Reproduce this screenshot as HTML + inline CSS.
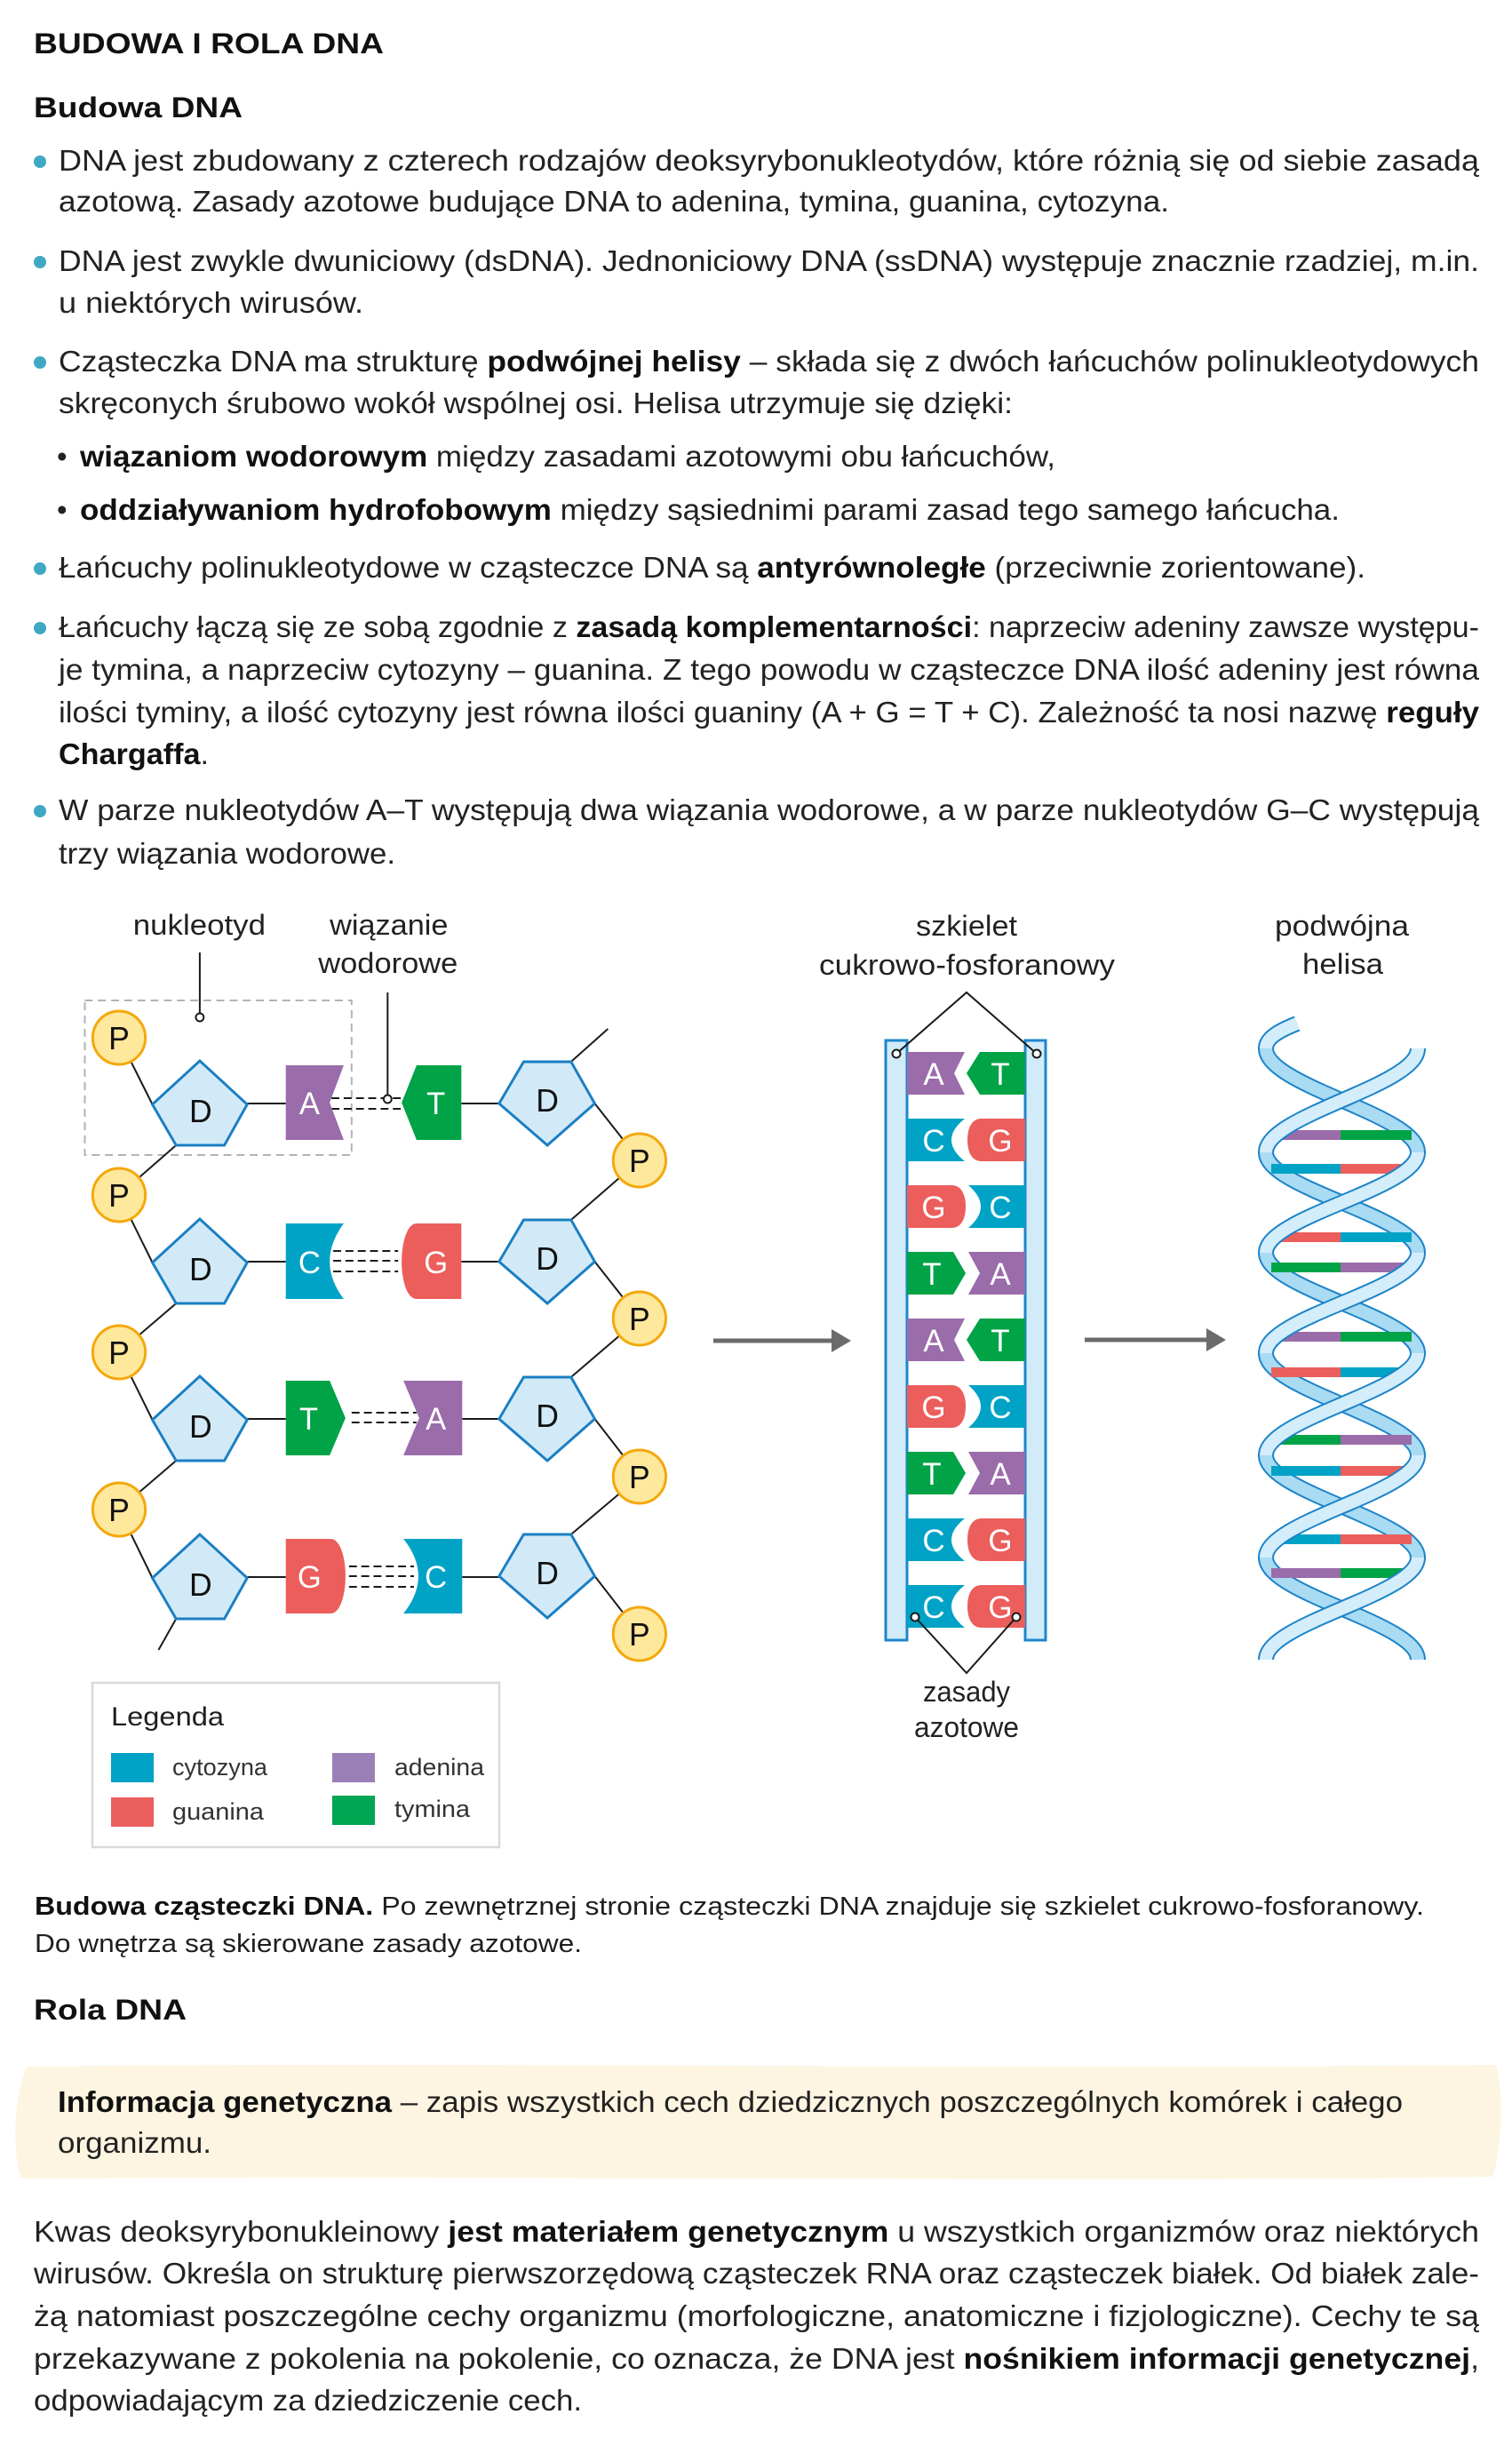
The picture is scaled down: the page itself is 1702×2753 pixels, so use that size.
<!DOCTYPE html>
<html><head><meta charset="utf-8"><style>
html,body{margin:0;padding:0;background:#fff;}
svg{display:block;}
text{font-family:"Liberation Sans","DejaVu Sans",sans-serif;}
.b{font-size:33px;fill:#222;}
.h{font-size:32px;font-weight:bold;fill:#111;}
.bd{font-weight:bold;fill:#111;}
.lab{font-size:32px;fill:#222;}
.wl{font-size:35px;fill:#fff;text-anchor:middle;}
.bl{font-size:36px;fill:#111;text-anchor:middle;}
.lg{font-size:27px;fill:#333;}
</style></head><body>
<svg width="1702" height="2753" viewBox="0 0 1702 2753" xmlns="http://www.w3.org/2000/svg">
<rect width="1702" height="2753" fill="#fff"/>

<!-- Headings -->
<text class="h" x="38" y="60" textLength="394" lengthAdjust="spacingAndGlyphs">BUDOWA I ROLA DNA</text>
<text class="h" x="38" y="132" textLength="235" lengthAdjust="spacingAndGlyphs">Budowa DNA</text>

<!-- bullets -->
<g fill="#3fa8c5">
<circle cx="45" cy="182" r="7"/>
<circle cx="45" cy="295" r="7"/>
<circle cx="45" cy="408" r="7"/>
<circle cx="45" cy="640" r="7"/>
<circle cx="45" cy="707" r="7"/>
<circle cx="45" cy="913" r="7"/>
</g>

<text class="b" x="66" y="192" textLength="1599" lengthAdjust="spacingAndGlyphs">DNA jest zbudowany z czterech rodzajów deoksyrybonukleotydów, które różnią się od siebie zasadą</text>
<text class="b" x="66" y="238" textLength="1250" lengthAdjust="spacingAndGlyphs">azotową. Zasady azotowe budujące DNA to adenina, tymina, guanina, cytozyna.</text>
<text class="b" x="66" y="305" textLength="1599" lengthAdjust="spacingAndGlyphs">DNA jest zwykle dwuniciowy (dsDNA). Jednoniciowy DNA (ssDNA) występuje znacznie rzadziej, m.in.</text>
<text class="b" x="66" y="352" textLength="343" lengthAdjust="spacingAndGlyphs">u niektórych wirusów.</text>
<text class="b" x="66" y="418" textLength="1599" lengthAdjust="spacingAndGlyphs">Cząsteczka DNA ma strukturę <tspan class="bd">podwójnej helisy</tspan> – składa się z dwóch łańcuchów polinukleotydowych</text>
<text class="b" x="66" y="465" textLength="1074" lengthAdjust="spacingAndGlyphs">skręconych śrubowo wokół wspólnej osi. Helisa utrzymuje się dzięki:</text>
<text class="b" x="64" y="525">•</text>
<text class="b" x="90" y="525" textLength="1098" lengthAdjust="spacingAndGlyphs"><tspan class="bd">wiązaniom wodorowym</tspan> między zasadami azotowymi obu łańcuchów,</text>
<text class="b" x="64" y="585">•</text>
<text class="b" x="90" y="585" textLength="1418" lengthAdjust="spacingAndGlyphs"><tspan class="bd">oddziaływaniom hydrofobowym</tspan> między sąsiednimi parami zasad tego samego łańcucha.</text>
<text class="b" x="66" y="650" textLength="1471" lengthAdjust="spacingAndGlyphs">Łańcuchy polinukleotydowe w cząsteczce DNA są <tspan class="bd">antyrównoległe</tspan> (przeciwnie zorientowane).</text>
<text class="b" x="66" y="717" textLength="1599" lengthAdjust="spacingAndGlyphs">Łańcuchy łączą się ze sobą zgodnie z <tspan class="bd">zasadą komplementarności</tspan>: naprzeciw adeniny zawsze występu-</text>
<text class="b" x="66" y="765" textLength="1599" lengthAdjust="spacingAndGlyphs">je tymina, a naprzeciw cytozyny – guanina. Z tego powodu w cząsteczce DNA ilość adeniny jest równa</text>
<text class="b" x="66" y="813" textLength="1599" lengthAdjust="spacingAndGlyphs">ilości tyminy, a ilość cytozyny jest równa ilości guaniny (A + G = T + C). Zależność ta nosi nazwę <tspan class="bd">reguły</tspan></text>
<text class="b" x="66" y="860" textLength="169" lengthAdjust="spacingAndGlyphs"><tspan class="bd">Chargaffa</tspan>.</text>
<text class="b" x="66" y="923" textLength="1599" lengthAdjust="spacingAndGlyphs">W parze nukleotydów A–T występują dwa wiązania wodorowe, a w parze nukleotydów G–C występują</text>
<text class="b" x="66" y="972" textLength="379" lengthAdjust="spacingAndGlyphs">trzy wiązania wodorowe.</text>

<!-- ===== Left diagram ===== -->
<g transform="matrix(0.988,0,0,1,1.6,0)">
<text class="lab" x="150" y="1052" textLength="151" lengthAdjust="spacingAndGlyphs">nukleotyd</text>
<text class="lab" x="374" y="1052" textLength="135" lengthAdjust="spacingAndGlyphs">wiązanie</text>
<text class="lab" x="361" y="1095" textLength="159" lengthAdjust="spacingAndGlyphs">wodorowe</text>

<rect x="95" y="1126" width="304" height="174" fill="none" stroke="#b3b3b3" stroke-width="2" stroke-dasharray="9 6"/>

<!-- backbone lines -->
<g stroke="#1a1a1a" stroke-width="2" fill="none">
<line x1="134" y1="1168" x2="172" y2="1243"/>
<line x1="199" y1="1289" x2="134" y2="1345"/>
<line x1="134" y1="1345" x2="172" y2="1421"/>
<line x1="199" y1="1467" x2="134" y2="1522"/>
<line x1="134" y1="1522" x2="172" y2="1598"/>
<line x1="199" y1="1644" x2="134" y2="1699"/>
<line x1="134" y1="1699" x2="172" y2="1776"/>
<line x1="199" y1="1822" x2="179" y2="1857"/>
<line x1="649" y1="1195" x2="691" y2="1158"/>
<line x1="676" y1="1242" x2="727" y2="1306"/>
<line x1="727" y1="1306" x2="649" y2="1373"/>
<line x1="676" y1="1420" x2="727" y2="1484"/>
<line x1="727" y1="1484" x2="649" y2="1550"/>
<line x1="676" y1="1597" x2="727" y2="1662"/>
<line x1="727" y1="1662" x2="649" y2="1727"/>
<line x1="676" y1="1774" x2="727" y2="1839"/>
<line x1="280" y1="1242" x2="324" y2="1242"/>
<line x1="524" y1="1242" x2="567" y2="1242"/>
<line x1="280" y1="1420" x2="324" y2="1420"/>
<line x1="524" y1="1420" x2="567" y2="1420"/>
<line x1="280" y1="1597" x2="324" y2="1597"/>
<line x1="525" y1="1597" x2="567" y2="1597"/>
<line x1="280" y1="1775" x2="324" y2="1775"/>
<line x1="525" y1="1775" x2="567" y2="1775"/>
<!-- leaders -->
<line x1="226" y1="1072" x2="226" y2="1141"/>
<line x1="440" y1="1117" x2="440" y2="1233"/>
</g>

<!-- hydrogen bonds -->
<g stroke="#1a1a1a" stroke-width="2" stroke-dasharray="9 5" fill="none">
<line x1="376" y1="1236" x2="455" y2="1236"/>
<line x1="376" y1="1248" x2="455" y2="1248"/>
<line x1="378" y1="1408" x2="452" y2="1408"/>
<line x1="378" y1="1419" x2="452" y2="1419"/>
<line x1="378" y1="1431" x2="452" y2="1431"/>
<line x1="399" y1="1590" x2="473" y2="1590"/>
<line x1="399" y1="1601" x2="473" y2="1601"/>
<line x1="396" y1="1763" x2="470" y2="1763"/>
<line x1="396" y1="1774" x2="470" y2="1774"/>
<line x1="396" y1="1786" x2="470" y2="1786"/>
</g>

<!-- P circles -->
<g fill="#fee89c" stroke="#f4a80c" stroke-width="3">
<circle cx="134" cy="1168" r="30"/>
<circle cx="134" cy="1345" r="30"/>
<circle cx="134" cy="1522" r="30"/>
<circle cx="134" cy="1699" r="30"/>
<circle cx="727" cy="1306" r="30"/>
<circle cx="727" cy="1484" r="30"/>
<circle cx="727" cy="1662" r="30"/>
<circle cx="727" cy="1839" r="30"/>
</g>
<text class="bl" x="134" y="1181">P</text>
<text class="bl" x="134" y="1358">P</text>
<text class="bl" x="134" y="1535">P</text>
<text class="bl" x="134" y="1712">P</text>
<text class="bl" x="727" y="1319">P</text>
<text class="bl" x="727" y="1497">P</text>
<text class="bl" x="727" y="1675">P</text>
<text class="bl" x="727" y="1852">P</text>

<!-- D pentagons -->
<g fill="#d2eaf8" stroke="#1b7fc3" stroke-width="3" stroke-linejoin="miter">
<polygon points="226,1194 280,1243 254,1289 199,1289 172,1243"/>
<polygon points="226,1372 280,1421 254,1467 199,1467 172,1421"/>
<polygon points="226,1549 280,1598 254,1644 199,1644 172,1598"/>
<polygon points="226,1727 280,1776 254,1822 199,1822 172,1776"/>
<polygon points="595,1195 649,1195 676,1242 622,1289 567,1242"/>
<polygon points="595,1373 649,1373 676,1420 622,1467 567,1420"/>
<polygon points="595,1550 649,1550 676,1597 622,1644 567,1597"/>
<polygon points="595,1727 649,1727 676,1774 622,1821 567,1774"/>
</g>
<text class="bl" x="227" y="1263">D</text>
<text class="bl" x="227" y="1441">D</text>
<text class="bl" x="227" y="1618">D</text>
<text class="bl" x="227" y="1796">D</text>
<text class="bl" x="622" y="1251">D</text>
<text class="bl" x="622" y="1429">D</text>
<text class="bl" x="622" y="1606">D</text>
<text class="bl" x="622" y="1783">D</text>

<!-- bases left diagram -->
<polygon points="324,1199 390,1199 374,1241 390,1283 324,1283" fill="#9a6caa"/>
<polygon points="473,1199 524,1199 524,1283 473,1283 456,1241" fill="#00a346"/>
<path d="M324,1377 H390 Q358,1420 390,1462 H324 Z" fill="#00a3c6"/>
<path d="M473,1377 H524 V1462 H473 C462,1462 456,1441 456,1420 C456,1399 462,1377 473,1377 Z" fill="#eb5e5c"/>
<polygon points="324,1554 374,1554 392,1596 374,1638 324,1638" fill="#00a346"/>
<polygon points="458,1554 525,1554 525,1638 458,1638 476,1596" fill="#9a6caa"/>
<path d="M324,1732 H375 C386,1732 392,1753 392,1774 C392,1795 386,1816 375,1816 H324 Z" fill="#eb5e5c"/>
<path d="M458,1732 H525 V1816 H458 Q492,1774 458,1732 Z" fill="#00a3c6"/>
<text class="wl" x="351" y="1254">A</text>
<text class="wl" x="495" y="1254">T</text>
<text class="wl" x="351" y="1433">C</text>
<text class="wl" x="495" y="1433">G</text>
<text class="wl" x="350" y="1609">T</text>
<text class="wl" x="495" y="1609">A</text>
<text class="wl" x="351" y="1787">G</text>
<text class="wl" x="495" y="1787">C</text>

<!-- leader circles -->
<g fill="#fff" stroke="#1a1a1a" stroke-width="2">
<circle cx="226" cy="1145" r="4.5"/>
<circle cx="440" cy="1237" r="4.5"/>
</g>
</g>

<!-- Legend -->
<rect x="104" y="1894" width="458" height="185" fill="#fff" stroke="#d9d9d9" stroke-width="2.5"/>
<text x="125" y="1942" style="font-size:30px;fill:#1e1e1e" textLength="127" lengthAdjust="spacingAndGlyphs">Legenda</text>
<rect x="125" y="1973" width="48" height="33" fill="#00a3c6"/>
<rect x="125" y="2023" width="48" height="33" fill="#ec5f5f"/>
<rect x="374" y="1973" width="48" height="33" fill="#9b7fb7"/>
<rect x="374" y="2021" width="48" height="33" fill="#00a651"/>
<text class="lg" x="194" y="1998" textLength="107" lengthAdjust="spacingAndGlyphs">cytozyna</text>
<text class="lg" x="194" y="2048" textLength="103" lengthAdjust="spacingAndGlyphs">guanina</text>
<text class="lg" x="444" y="1998" textLength="101" lengthAdjust="spacingAndGlyphs">adenina</text>
<text class="lg" x="444" y="2045" textLength="85" lengthAdjust="spacingAndGlyphs">tymina</text>

<!-- ===== Arrows ===== -->
<line x1="803" y1="1509" x2="938" y2="1509" stroke="#6b6b6b" stroke-width="5"/>
<polygon points="936,1496 958,1509 936,1522" fill="#6b6b6b"/>
<line x1="1221" y1="1508" x2="1360" y2="1508" stroke="#6b6b6b" stroke-width="5"/>
<polygon points="1358,1495 1380,1508 1358,1521" fill="#6b6b6b"/>

<!-- ===== Ladder ===== -->
<text class="lab" x="1031" y="1053" textLength="114" lengthAdjust="spacingAndGlyphs">szkielet</text>
<text class="lab" x="922" y="1097" textLength="333" lengthAdjust="spacingAndGlyphs">cukrowo-fosforanowy</text>
<text class="lab" x="1039" y="1915" textLength="98" lengthAdjust="spacingAndGlyphs">zasady</text>
<text class="lab" x="1029" y="1955" textLength="118" lengthAdjust="spacingAndGlyphs">azotowe</text>

<rect x="997" y="1171" width="24" height="675" fill="#d2ebf9" stroke="#1f86cc" stroke-width="3"/>
<rect x="1154" y="1171" width="23" height="675" fill="#d2ebf9" stroke="#1f86cc" stroke-width="3"/>

<!-- row0 A T -->
<polygon points="1021,1184 1086,1184 1074,1208 1086,1232 1021,1232" fill="#9a6caa"/>
<polygon points="1103,1184 1154,1184 1154,1232 1103,1232 1088,1208" fill="#00a346"/>
<!-- row1 C G -->
<path d="M1021,1259 H1086 Q1056,1283 1086,1307 H1021 Z" fill="#00a3c6"/>
<path d="M1105,1259 H1154 V1307 H1105 C1093,1307 1089,1295 1089,1283 C1089,1271 1093,1259 1105,1259 Z" fill="#eb5e5c"/>
<!-- row2 G C -->
<path d="M1021,1334 H1071 C1083,1334 1087,1346 1087,1358 C1087,1370 1083,1382 1071,1382 H1021 Z" fill="#eb5e5c"/>
<path d="M1090,1334 H1154 V1382 H1090 Q1118,1358 1090,1334 Z" fill="#00a3c6"/>
<!-- row3 T A -->
<polygon points="1021,1409 1073,1409 1087,1433 1073,1457 1021,1457" fill="#00a346"/>
<polygon points="1090,1409 1154,1409 1154,1457 1090,1457 1103,1433" fill="#9a6caa"/>
<!-- row4 A T -->
<polygon points="1021,1484 1086,1484 1074,1508 1086,1532 1021,1532" fill="#9a6caa"/>
<polygon points="1103,1484 1154,1484 1154,1532 1103,1532 1088,1508" fill="#00a346"/>
<!-- row5 G C -->
<path d="M1021,1559 H1071 C1083,1559 1087,1571 1087,1583 C1087,1595 1083,1607 1071,1607 H1021 Z" fill="#eb5e5c"/>
<path d="M1090,1559 H1154 V1607 H1090 Q1118,1583 1090,1559 Z" fill="#00a3c6"/>
<!-- row6 T A -->
<polygon points="1021,1634 1073,1634 1087,1658 1073,1682 1021,1682" fill="#00a346"/>
<polygon points="1090,1634 1154,1634 1154,1682 1090,1682 1103,1658" fill="#9a6caa"/>
<!-- row7 C G -->
<path d="M1021,1709 H1086 Q1056,1733 1086,1757 H1021 Z" fill="#00a3c6"/>
<path d="M1105,1709 H1154 V1757 H1105 C1093,1757 1089,1745 1089,1733 C1089,1721 1093,1709 1105,1709 Z" fill="#eb5e5c"/>
<!-- row8 C G -->
<path d="M1021,1784 H1086 Q1056,1808 1086,1832 H1021 Z" fill="#00a3c6"/>
<path d="M1105,1784 H1154 V1832 H1105 C1093,1832 1089,1820 1089,1808 C1089,1796 1093,1784 1105,1784 Z" fill="#eb5e5c"/>

<text class="wl" x="1051" y="1221">A</text><text class="wl" x="1126" y="1221">T</text>
<text class="wl" x="1051" y="1296">C</text><text class="wl" x="1126" y="1296">G</text>
<text class="wl" x="1051" y="1371">G</text><text class="wl" x="1126" y="1371">C</text>
<text class="wl" x="1049" y="1446">T</text><text class="wl" x="1126" y="1446">A</text>
<text class="wl" x="1051" y="1521">A</text><text class="wl" x="1126" y="1521">T</text>
<text class="wl" x="1051" y="1596">G</text><text class="wl" x="1126" y="1596">C</text>
<text class="wl" x="1049" y="1671">T</text><text class="wl" x="1126" y="1671">A</text>
<text class="wl" x="1051" y="1746">C</text><text class="wl" x="1126" y="1746">G</text>
<text class="wl" x="1051" y="1821">C</text><text class="wl" x="1126" y="1821">G</text>

<!-- ladder leaders -->
<g stroke="#1a1a1a" stroke-width="2" fill="none">
<polyline points="1009,1186 1088,1117 1167,1186"/>
<polyline points="1030,1820 1088,1883 1144,1820"/>
</g>
<g fill="#fff" stroke="#1a1a1a" stroke-width="2">
<circle cx="1009" cy="1186" r="4.5"/>
<circle cx="1167" cy="1186" r="4.5"/>
<circle cx="1030" cy="1820" r="4.5"/>
<circle cx="1144" cy="1820" r="4.5"/>
</g>

<!-- ===== Helix ===== -->
<text class="lab" x="1435" y="1053" textLength="151" lengthAdjust="spacingAndGlyphs">podwójna</text>
<text class="lab" x="1466" y="1096" textLength="91" lengthAdjust="spacingAndGlyphs">helisa</text>

<!-- back strands -->
<g fill="none" stroke-linecap="butt">
<g stroke="#1c84c9" stroke-width="18">
<path d="M1425,1180 C1425,1222.6 1596,1254.4 1596,1297"/>
<path d="M1425,1297 C1425,1338.2 1596,1368.8 1596,1410"/>
<path d="M1425,1410 C1425,1451.2 1596,1481.8 1596,1523"/>
<path d="M1425,1523 C1425,1564.9 1596,1596.1 1596,1638"/>
<path d="M1425,1638 C1425,1679.9 1596,1711.1 1596,1753"/>
<path d="M1425,1753 C1425,1794.9 1596,1826.1 1596,1868"/>
</g>
<g stroke="#a9dbf3" stroke-width="14">
<path d="M1425,1180 C1425,1222.6 1596,1254.4 1596,1297"/>
<path d="M1425,1297 C1425,1338.2 1596,1368.8 1596,1410"/>
<path d="M1425,1410 C1425,1451.2 1596,1481.8 1596,1523"/>
<path d="M1425,1523 C1425,1564.9 1596,1596.1 1596,1638"/>
<path d="M1425,1638 C1425,1679.9 1596,1711.1 1596,1753"/>
<path d="M1425,1753 C1425,1794.9 1596,1826.1 1596,1868"/>
</g>
</g>

<!-- base pair bars -->
<g>
<rect x="1431" y="1272" width="78" height="11" fill="#9a6caa"/><rect x="1509" y="1272" width="80" height="11" fill="#00a346"/>
<rect x="1431" y="1310" width="78" height="11" fill="#00a3c6"/><rect x="1509" y="1310" width="80" height="11" fill="#eb5e5c"/>
<rect x="1431" y="1387" width="78" height="11" fill="#eb5e5c"/><rect x="1509" y="1387" width="80" height="11" fill="#00a3c6"/>
<rect x="1431" y="1421" width="78" height="11" fill="#00a346"/><rect x="1509" y="1421" width="80" height="11" fill="#9a6caa"/>
<rect x="1431" y="1499" width="78" height="11" fill="#9a6caa"/><rect x="1509" y="1499" width="80" height="11" fill="#00a346"/>
<rect x="1431" y="1539" width="78" height="11" fill="#eb5e5c"/><rect x="1509" y="1539" width="80" height="11" fill="#00a3c6"/>
<rect x="1431" y="1615" width="78" height="11" fill="#00a346"/><rect x="1509" y="1615" width="80" height="11" fill="#9a6caa"/>
<rect x="1431" y="1650" width="78" height="11" fill="#00a3c6"/><rect x="1509" y="1650" width="80" height="11" fill="#eb5e5c"/>
<rect x="1431" y="1727" width="78" height="11" fill="#00a3c6"/><rect x="1509" y="1727" width="80" height="11" fill="#eb5e5c"/>
<rect x="1431" y="1765" width="78" height="11" fill="#9a6caa"/><rect x="1509" y="1765" width="80" height="11" fill="#00a346"/>
</g>

<!-- front strands -->
<g fill="none" stroke-linecap="butt">
<g stroke="#1c84c9" stroke-width="18">
<path d="M1460,1152 C1440,1160 1425,1168 1425,1180"/>
<path d="M1596,1180 C1596,1222.6 1425,1254.4 1425,1297"/>
<path d="M1596,1297 C1596,1338.2 1425,1368.8 1425,1410"/>
<path d="M1596,1410 C1596,1451.2 1425,1481.8 1425,1523"/>
<path d="M1596,1523 C1596,1564.9 1425,1596.1 1425,1638"/>
<path d="M1596,1638 C1596,1679.9 1425,1711.1 1425,1753"/>
<path d="M1596,1753 C1596,1794.9 1425,1826.1 1425,1868"/>
</g>
<g stroke="#d4edfa" stroke-width="14">
<path d="M1460,1152 C1440,1160 1425,1168 1425,1180"/>
<path d="M1596,1180 C1596,1222.6 1425,1254.4 1425,1297"/>
<path d="M1596,1297 C1596,1338.2 1425,1368.8 1425,1410"/>
<path d="M1596,1410 C1596,1451.2 1425,1481.8 1425,1523"/>
<path d="M1596,1523 C1596,1564.9 1425,1596.1 1425,1638"/>
<path d="M1596,1638 C1596,1679.9 1425,1711.1 1425,1753"/>
<path d="M1596,1753 C1596,1794.9 1425,1826.1 1425,1868"/>
</g>
</g>

<!-- ===== Caption ===== -->
<text x="39" y="2155" style="font-size:29px;fill:#1e1e1e" textLength="1564" lengthAdjust="spacingAndGlyphs"><tspan class="bd">Budowa cząsteczki DNA.</tspan> Po zewnętrznej stronie cząsteczki DNA znajduje się szkielet cukrowo-fosforanowy.</text>
<text x="39" y="2197" style="font-size:29px;fill:#1e1e1e" textLength="616" lengthAdjust="spacingAndGlyphs">Do wnętrza są skierowane zasady azotowe.</text>

<text class="h" x="38" y="2273" textLength="172" lengthAdjust="spacingAndGlyphs">Rola DNA</text>

<!-- yellow box -->
<path d="M30,2326 C500,2320 1100,2330 1684,2324 C1694,2360 1690,2420 1680,2450 C1200,2457 600,2448 24,2452 C13,2420 16,2360 30,2326 Z" fill="#fdf5e1"/>
<text class="b" x="65" y="2377" textLength="1514" lengthAdjust="spacingAndGlyphs"><tspan class="bd">Informacja genetyczna</tspan> – zapis wszystkich cech dziedzicznych poszczególnych komórek i całego</text>
<text class="b" x="65" y="2423" textLength="173" lengthAdjust="spacingAndGlyphs">organizmu.</text>

<!-- bottom paragraph -->
<text class="b" x="38" y="2523" textLength="1627" lengthAdjust="spacingAndGlyphs">Kwas deoksyrybonukleinowy <tspan class="bd">jest materiałem genetycznym</tspan> u wszystkich organizmów oraz niektórych</text>
<text class="b" x="38" y="2570" textLength="1627" lengthAdjust="spacingAndGlyphs">wirusów. Określa on strukturę pierwszorzędową cząsteczek RNA oraz cząsteczek białek. Od białek zale-</text>
<text class="b" x="38" y="2618" textLength="1627" lengthAdjust="spacingAndGlyphs">żą natomiast poszczególne cechy organizmu (morfologiczne, anatomiczne i fizjologiczne). Cechy te są</text>
<text class="b" x="38" y="2666" textLength="1627" lengthAdjust="spacingAndGlyphs">przekazywane z pokolenia na pokolenie, co oznacza, że DNA jest <tspan class="bd">nośnikiem informacji genetycznej</tspan>,</text>
<text class="b" x="38" y="2713" textLength="617" lengthAdjust="spacingAndGlyphs">odpowiadającym za dziedziczenie cech.</text>
</svg>
</body></html>
